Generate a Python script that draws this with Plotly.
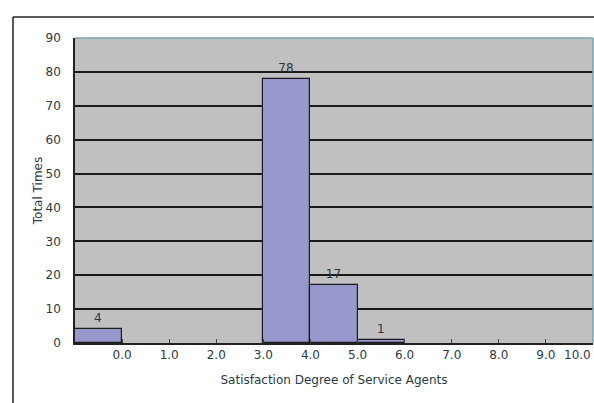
import plotly.graph_objects as go

# Histogram bins (left edge, right edge) and counts
bin_left = [-1, 3, 4, 5]
bin_right = [0, 4, 5, 6]
counts = [4, 78, 17, 1]

tick_vals = [0, 1, 2, 3, 4, 5, 6, 7, 8, 9, 10]
tick_text = ["0.0", "1.0", "2.0", "3.0", "4.0", "5.0", "6.0", "7.0", "8.0", "9.0", "10.0"]
y_ticks = [0, 10, 20, 30, 40, 50, 60, 70, 80, 90]

centers = [(a + b) / 2 for a, b in zip(bin_left, bin_right)]
widths = [b - a for a, b in zip(bin_left, bin_right)]

W, H = 594, 403
ml, mr, mt, mb = 75, 1, 38, 60
pw, ph = W - ml - mr, H - mt - mb

txtc = "#2a3a44"
fnt = dict(family="DejaVu Sans", size=12, color=txtc)

fig = go.Figure()
fig.add_trace(go.Bar(
    x=centers, y=counts, width=widths,
    marker=dict(color="#9797cc", line=dict(color="#1a1a1a", width=1.2)),
    text=[str(c) for c in counts], textposition="outside",
    textfont=fnt,
    cliponaxis=False,
))

# last tick label is placed right-aligned so it stays inside the figure
shown_text = tick_text[:-1] + [""]

fig.update_layout(
    width=W, height=H,
    margin=dict(l=ml, r=mr, t=mt, b=mb),
    paper_bgcolor="white",
    plot_bgcolor="#c0c0c0",
    showlegend=False,
    font=fnt,
    bargap=0,
    xaxis=dict(
        range=[-1, 10], tickvals=tick_vals, ticktext=shown_text,
        showgrid=False, zeroline=False,
        showline=True, linecolor="#222222", linewidth=1.5,
        ticks="inside", ticklen=4, tickcolor="#444444",
        automargin=False,
        tickfont=fnt,
        title=dict(text="Satisfaction Degree of Service Agents", font=fnt, standoff=14),
    ),
    yaxis=dict(
        range=[0, 90], tickvals=y_ticks,
        showgrid=True, gridcolor="#1a1a1a", gridwidth=1.5,
        zeroline=False,
        showline=True, linecolor="#222222", linewidth=1.5,
        ticks="", ticklabelstandoff=10,
        tickfont=fnt,
        title=dict(text="Total Times", font=fnt, standoff=0),
    ),
)

fig.add_annotation(x=tick_vals[-1], y=0, xref="x", yref="y", text=tick_text[-1],
                   showarrow=False, xanchor="right", yanchor="top", yshift=-3,
                   font=fnt)

# teal border on top and right of plot area
fig.add_shape(type="line", xref="paper", yref="paper", x0=0, x1=1, y0=1, y1=1,
              line=dict(color="#7aa6b0", width=1.5))
fig.add_shape(type="line", xref="paper", yref="paper", x0=1, x1=1, y0=0, y1=1,
              line=dict(color="#7aa6b0", width=1.5))

# outer frame lines (top and left)
fx = (13 - ml) / pw
fy = (H - mb - 17) / ph
fybot = (H - mb - 403) / ph
fig.add_shape(type="line", xref="paper", yref="paper", x0=fx, x1=(W - ml) / pw, y0=fy, y1=fy,
              line=dict(color="#222222", width=1.5))
fig.add_shape(type="line", xref="paper", yref="paper", x0=fx, x1=fx, y0=fy, y1=fybot,
              line=dict(color="#222222", width=1.5))

fig.write_html("out.html")
